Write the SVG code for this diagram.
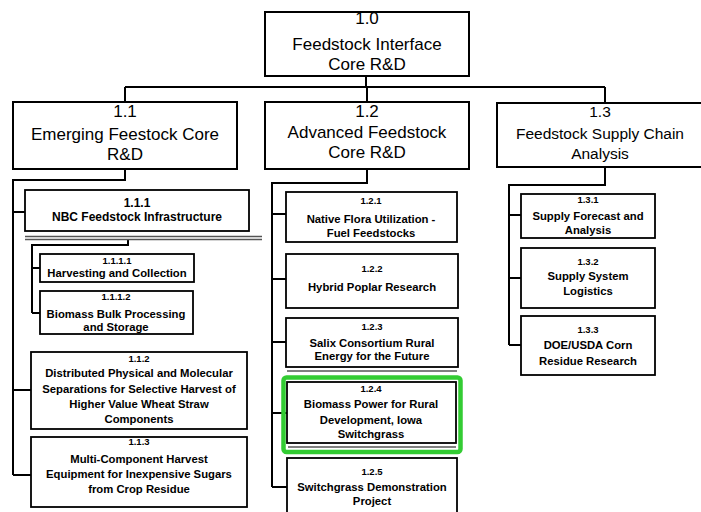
<svg xmlns="http://www.w3.org/2000/svg" width="701" height="512" viewBox="0 0 701 512">
  <style>
    .box { fill: #fff; stroke: #000; stroke-width: 2; }
    .sbox { fill: #fff; stroke: #000; stroke-width: 1.8; }
    .wire { fill: none; stroke: #000; stroke-width: 2; }
    .rule { fill: none; stroke: #555; stroke-width: 1.3; }
    .big { font-family: "Liberation Sans", Arial, sans-serif; font-size: 17px; fill: #000; text-anchor: middle; }
    .mid { font-family: "Liberation Sans", Arial, sans-serif; font-size: 15.5px; fill: #000; text-anchor: middle; }
    .sm { font-family: "Liberation Sans", Arial, sans-serif; font-size: 11.3px; font-weight: bold; fill: #000; text-anchor: middle; }
    .num { font-family: "Liberation Sans", Arial, sans-serif; font-size: 9.5px; font-weight: bold; fill: #000; text-anchor: middle; }
    .hl { fill: none; stroke: #33cc33; stroke-width: 4.5; }
  </style>
  <rect width="701" height="512" fill="#fff"/>

  <!-- connectors -->
  <g id="connectors">
    <path class="wire" d="M366 76 V87 M125 87 H605 M125 87 V102 M367 87 V102 M605 87 V103"/>
    <!-- 1.1 branch -->
    <path class="wire" d="M125 169 V180 H13 V475 M13 212 H25 M13 390 H31 M13 475 H31"/>
    <path class="wire" d="M128 239 V245 H32 V313 M32 268 H40 M32 313 H40"/>
    <!-- 1.2 branch -->
    <path class="wire" d="M367 169 V183 H272 V487 M272 214 H286 M272 279 H286 M272 342 H286 M272 413 H287 M272 487 H287"/>
    <!-- 1.3 branch -->
    <path class="wire" d="M605 167 V185 H509 V345 M509 215 H521 M509 278 H521 M509 345 H521"/>
  </g>

  <g id="n1_0">
    <rect class="box" x="265" y="12" width="204" height="64"/>
    <text class="big" x="367" y="24">1.0</text>
    <text class="big" x="367" y="50">Feedstock Interface</text>
    <text class="big" x="367" y="70">Core R&amp;D</text>
  </g>

  <g id="n1_1">
    <rect class="box" x="13" y="102" width="224" height="67"/>
    <text class="big" x="125" y="117">1.1</text>
    <text class="big" x="125" y="140">Emerging Feestock Core</text>
    <text class="big" x="125" y="160">R&amp;D</text>
  </g>

  <g id="n1_2">
    <rect class="box" x="265" y="102" width="204" height="67"/>
    <text class="big" x="367" y="117">1.2</text>
    <text class="big" x="367" y="138">Advanced Feedstock</text>
    <text class="big" x="367" y="158">Core R&amp;D</text>
  </g>

  <g id="n1_3">
    <rect class="box" x="497" y="103" width="220" height="64"/>
    <text class="mid" x="600" y="117">1.3</text>
    <text class="mid" x="600" y="139">Feedstock Supply Chain</text>
    <text class="mid" x="600" y="159">Analysis</text>
  </g>

  <g id="n1_1_1">
    <rect class="sbox" x="25" y="190" width="224" height="41"/>
    <text class="sm" x="137" y="207" style="font-size:12px">1.1.1</text>
    <text class="sm" x="137" y="221" style="font-size:12px">NBC Feedstock Infrastructure</text>
    <path class="rule" d="M25 236.5 H262 M25 239.5 H262"/>
  </g>

  <g id="n1_1_1_1">
    <rect class="sbox" x="40" y="254" width="154" height="28"/>
    <text class="num" x="117" y="264">1.1.1.1</text>
    <text class="sm" x="117" y="277">Harvesting and Collection</text>
  </g>

  <g id="n1_1_1_2">
    <rect class="sbox" x="40" y="291" width="153" height="43"/>
    <text class="num" x="116" y="300">1.1.1.2</text>
    <text class="sm" x="116" y="318">Biomass Bulk Processing</text>
    <text class="sm" x="116" y="331">and Storage</text>
  </g>

  <g id="n1_1_2">
    <rect class="sbox" x="31" y="352" width="216" height="77"/>
    <text class="num" x="139" y="362">1.1.2</text>
    <text class="sm" x="139" y="377">Distributed Physical and Molecular</text>
    <text class="sm" x="139" y="393">Separations for Selective Harvest of</text>
    <text class="sm" x="139" y="408">Higher Value Wheat Straw</text>
    <text class="sm" x="139" y="423">Components</text>
  </g>

  <g id="n1_1_3">
    <rect class="sbox" x="31" y="437" width="216" height="70"/>
    <text class="num" x="139" y="445">1.1.3</text>
    <text class="sm" x="139" y="463">Multi-Component Harvest</text>
    <text class="sm" x="139" y="478">Equipment for Inexpensive Sugars</text>
    <text class="sm" x="139" y="493">from Crop Residue</text>
  </g>

  <g id="n1_2_1">
    <rect class="sbox" x="286" y="192" width="171" height="50"/>
    <text class="num" x="371" y="204">1.2.1</text>
    <text class="sm" x="371" y="223">Native Flora Utilization -</text>
    <text class="sm" x="371" y="237">Fuel Feedstocks</text>
  </g>

  <g id="n1_2_2">
    <rect class="sbox" x="286" y="254" width="172" height="54"/>
    <text class="num" x="372" y="272">1.2.2</text>
    <text class="sm" x="372" y="291">Hybrid Poplar Research</text>
  </g>

  <g id="n1_2_3">
    <rect class="sbox" x="286" y="318" width="172" height="49"/>
    <path fill="none" stroke="#000" stroke-width="1" d="M287 371 H457"/>
    <text class="num" x="372" y="330">1.2.3</text>
    <text class="sm" x="372" y="347">Salix Consortium Rural</text>
    <text class="sm" x="372" y="360">Energy for the Future</text>
  </g>

  <g id="n1_2_4">
    <rect class="hl" x="283.5" y="377.5" width="177" height="74.5" rx="3"/>
    <rect class="sbox" x="287" y="382" width="169" height="61"/>
    <path fill="none" stroke="#000" stroke-width="1" d="M288 447 H456"/>
    <text class="num" x="371" y="392">1.2.4</text>
    <text class="sm" x="371" y="408">Biomass Power for Rural</text>
    <text class="sm" x="371" y="424">Development, Iowa</text>
    <text class="sm" x="371" y="438">Switchgrass</text>
  </g>

  <g id="n1_2_5">
    <rect class="sbox" x="287" y="458" width="170" height="60"/>
    <text class="num" x="372" y="475">1.2.5</text>
    <text class="sm" x="372" y="491">Switchgrass Demonstration</text>
    <text class="sm" x="372" y="505">Project</text>
  </g>

  <g id="n1_3_1">
    <rect class="sbox" x="521" y="194" width="134" height="44"/>
    <text class="num" x="588" y="203">1.3.1</text>
    <text class="sm" x="588" y="220">Supply Forecast and</text>
    <text class="sm" x="588" y="234">Analysis</text>
  </g>

  <g id="n1_3_2">
    <rect class="sbox" x="521" y="248" width="134" height="60"/>
    <text class="num" x="588" y="265">1.3.2</text>
    <text class="sm" x="588" y="280">Supply System</text>
    <text class="sm" x="588" y="295">Logistics</text>
  </g>

  <g id="n1_3_3">
    <rect class="sbox" x="521" y="316" width="134" height="59"/>
    <text class="num" x="588" y="333">1.3.3</text>
    <text class="sm" x="588" y="349">DOE/USDA Corn</text>
    <text class="sm" x="588" y="365">Residue Research</text>
  </g>
</svg>
